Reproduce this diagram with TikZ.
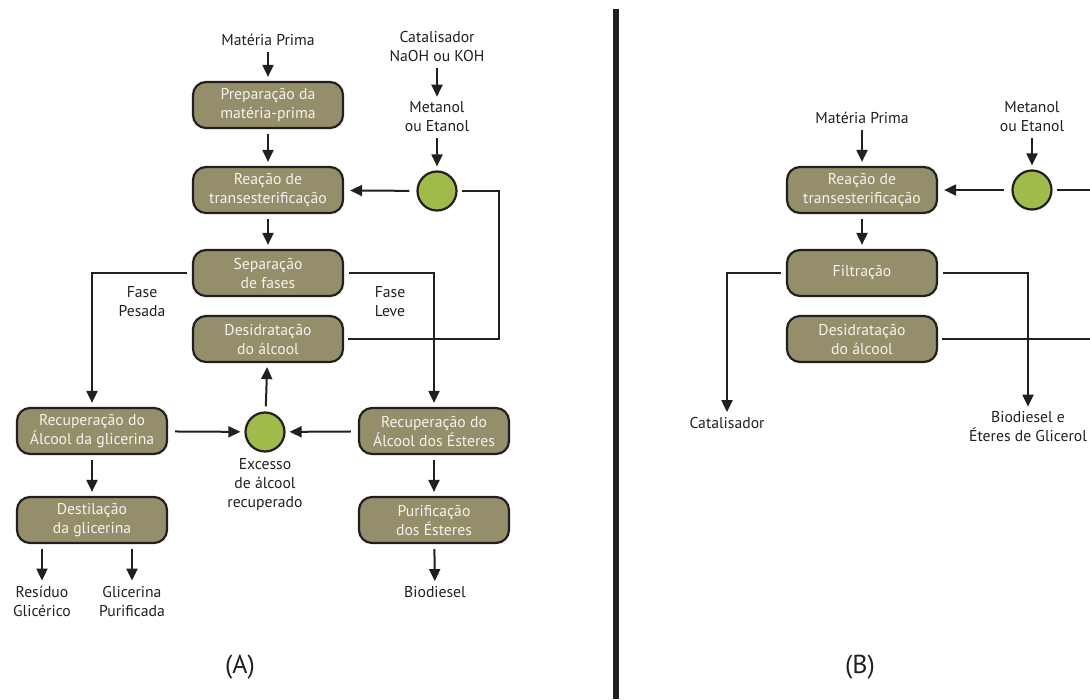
\documentclass[tikz,border=0pt]{standalone}
\usepackage{fontspec}
\setmainfont{PT Sans}
\usepackage{xcolor}
\usetikzlibrary{shapes,arrows,arrows.meta}
\usetikzlibrary{positioning}
\definecolor{inkdark}{RGB}{35,31,32}
\definecolor{boxfill}{RGB}{149,142,107}
\definecolor{boxtext}{RGB}{244,243,238}
\definecolor{mixgreen}{RGB}{160,186,76}
\tikzstyle{block} = [rectangle, draw=inkdark, line width=2.2pt, fill=boxfill,
    text=boxtext, align=center, rounded corners=13pt, minimum height=46pt,
    minimum width=150pt, inner sep=0pt]
\tikzstyle{mixer} = [circle, draw=inkdark, line width=2.2pt, fill=mixgreen,
    minimum size=39pt, inner sep=0pt]
\tikzstyle{txt} = [align=center, text=inkdark, inner sep=1pt]
\tikzstyle{line} = [draw=inkdark, -{Triangle[length=12pt,width=11pt]}, line width=2pt,
    shorten <=5pt, shorten >=4pt]
\tikzstyle{wire} = [draw=inkdark, line width=2pt, shorten <=4pt]

\begin{document}
\begin{tikzpicture}[x=1pt, y=-1pt, font=\fontsize{15.7}{19}\selectfont]
    \useasboundingbox (0,0) rectangle (1090,699);
    % Place nodes (A)
    \node [block] (prepA) at (268,105) {Preparação da\\matéria-prima};
    \node [block] (reacA) at (268,190) {Reação de\\transesterificação};
    \node [block] (sepA) at (268,273) {Separação\\de fases};
    \node [block] (desA) at (268,339) {Desidratação\\do álcool};
    \node [block] (recgA) at (92,431) {Recuperação do\\Álcool da glicerina};
    \node [block] (receA) at (434,431) {Recuperação do\\Álcool dos Ésteres};
    \node [block] (destA) at (92,520) {Destilação\\da glicerina};
    \node [block] (purA) at (434,520) {Purificação\\dos Ésteres};
    \node [mixer] (mixA) at (437,191) {};
    \node [mixer] (excA) at (265,432) {};
    \node [txt] (mpA) at (268,40) {Matéria Prima};
    \node [txt] (catA) at (437,47) {Catalisador\\NaOH ou KOH};
    \node [txt] (alcA) at (437,117) {Metanol\\ou Etanol};
    \node [txt] (excTxt) at (265,485) {Excesso\\de álcool\\recuperado};
    \node [txt] (resA) at (42,601) {Resíduo\\Glicérico};
    \node [txt] (glyA) at (132,601) {Glicerina\\Purificada};
    \node [txt] (bioA) at (435,592) {Biodiesel};
    \node [txt] (heavyA) at (142,302) {Fase\\Pesada};
    \node [txt] (lightA) at (390,302) {Fase\\Leve};
    \node [txt, font=\fontsize{26}{30}\selectfont] (capA) at (240,667) {(A)};
    \coordinate (retA) at (499,191);
    % Draw edges (A)
    \path [line] (mpA) -- (prepA);
    \path [line] (prepA) -- (reacA);
    \path [line] (reacA) -- (sepA);
    \path [line] (catA) -- (alcA);
    \path [line] (alcA) -- (mixA);
    \path [line, shorten <=7pt, shorten >=6pt] (mixA) -- (reacA);
    \path [wire, shorten >=4pt] (desA) -| (retA) -- (mixA);
    \path [line] (sepA) -| (recgA);
    \path [line] (sepA) -| (receA);
    \path [line] (excA) -- (desA);
    \path [line, shorten <=7pt] (recgA) -- (excA);
    \path [line, shorten <=7pt] (receA) -- (excA);
    \path [line] (recgA) -- (destA);
    \path [line] (receA) -- (purA);
    \path [line] (purA) -- (bioA);
    \path [line] (destA.south -| resA) -- (resA);
    \path [line] (destA.south -| glyA) -- (glyA);

    % divider
    \draw [inkdark, line width=6pt] (616,9) -- (616,699);

    % Place nodes (B)
    \node [block] (reacB) at (862,190) {Reação de\\transesterificação};
    \node [block] (filB) at (862,273) {Filtração};
    \node [block] (desB) at (862,339) {Desidratação\\do álcool};
    \node [mixer] (mixB) at (1032,190) {};
    \node [txt] (mpB) at (862,118) {Matéria Prima};
    \node [txt] (alcB) at (1032,117) {Metanol\\ou Etanol};
    \node [txt] (catB) at (727,423) {Catalisador};
    \node [txt] (bioB) at (1028,427) {Biodiesel e\\Éteres de Glicerol};
    \node [txt, font=\fontsize{26}{30}\selectfont] (capB) at (860,667) {(B)};
    \coordinate (outB) at (1090,190);
    \coordinate (retB) at (1090,339);
    % Draw edges (B)
    \path [line] (mpB) -- (reacB);
    \path [line] (reacB) -- (filB);
    \path [line] (alcB) -- (mixB);
    \path [line, shorten <=7pt, shorten >=6pt] (mixB) -- (reacB);
    \path [wire] (mixB) -- (outB);
    \path [wire] (desB) -- (retB);
    \path [line] (filB) -| (catB);
    \path [line] (filB) -| (bioB);
\end{tikzpicture}
\end{document}
